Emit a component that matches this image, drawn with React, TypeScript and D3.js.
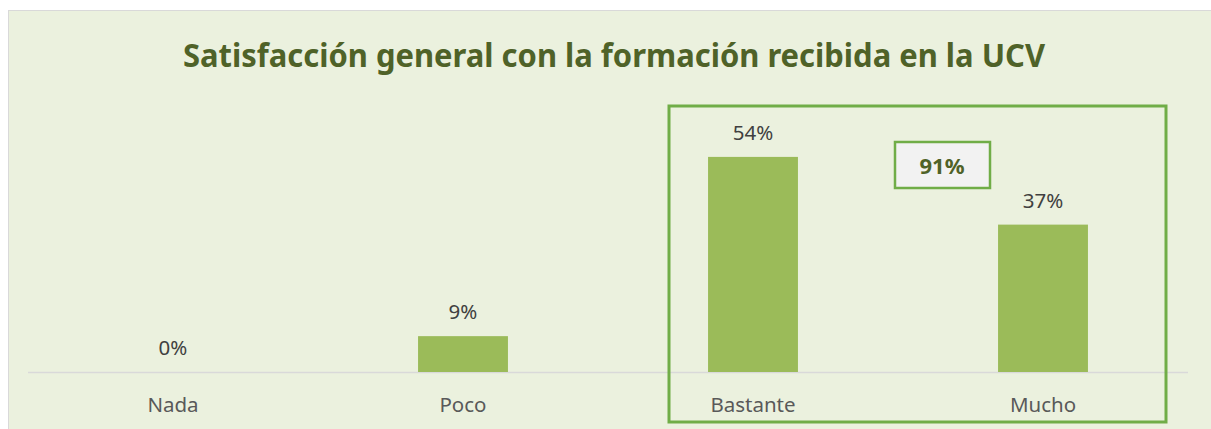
import React from 'react';
import * as d3 from 'd3';

// Chart data
const categories = ['Nada', 'Poco', 'Bastante', 'Mucho'];
const values = [0, 9, 54, 37];
const highlightLabel = '91%';
const title = 'Satisfacción general con la formación recibida en la UCV';

const W = 1211;
const H = 429;
const BAR = '#9BBB59';
const TEXT = '#404040';
const TITLE = '#4F6228';
const HL = '#70AD47';
const FONT = '"Noto Sans", "Open Sans", sans-serif';

export default function App() {
  const x = d3.scaleBand<string>().domain(categories).range([28, 1188]).padding(0);
  const y = d3.scaleLinear().domain([0, 60]).range([372, 133]);
  const barW = x.bandwidth() * 0.31;

  // highlight region spans Bastante..Mucho
  const hx0 = (x('Bastante') as number) + 61;
  const hx1 = (x('Mucho') as number) + x.bandwidth() - 22;

  return (
    <div style={{ position: 'fixed', left: 0, top: 0 }}>
      <svg width={W} height={H} style={{ display: 'block' }}>
        <rect x={8.5} y={10.5} width={W} height={H} fill="#EBF1DE" stroke="#D9D9D9" strokeWidth={1} />
        <text
          x={614}
          y={67}
          textAnchor="middle"
          fontFamily={FONT}
          fontWeight={700}
          fontSize={33}
          fill={TITLE}
          textLength={862}
          lengthAdjust="spacingAndGlyphs"
        >
          {title}
        </text>

        <line x1={28} x2={1188} y1={y(0) + 0.5} y2={y(0) + 0.5} stroke="#D9D9D9" strokeWidth={1.5} />

        {categories.map((c, i) => {
          const cx = (x(c) as number) + x.bandwidth() / 2;
          return (
            <g key={c}>
              {values[i] > 0 && (
                <rect x={cx - barW / 2} y={y(values[i])} width={barW} height={y(0) - y(values[i])} fill={BAR} />
              )}
              <text x={cx} y={y(values[i]) - 17} textAnchor="middle" fontFamily={FONT} fontSize={20.5} fill={TEXT}>
                {values[i]}%
              </text>
              <text x={cx} y={412} textAnchor="middle" fontFamily={FONT} fontSize={20.5} fill="#595959">
                {c}
              </text>
            </g>
          );
        })}

        <rect x={hx0} y={106} width={hx1 - hx0} height={316} fill="none" stroke={HL} strokeWidth={3} />
        <rect x={895} y={142} width={95} height={46} fill="#F2F2F2" stroke={HL} strokeWidth={2.5} />
        <text x={942} y={174} textAnchor="middle" fontFamily={FONT} fontWeight={700} fontSize={22} fill={TITLE}>
          {highlightLabel}
        </text>
      </svg>
    </div>
  );
}
